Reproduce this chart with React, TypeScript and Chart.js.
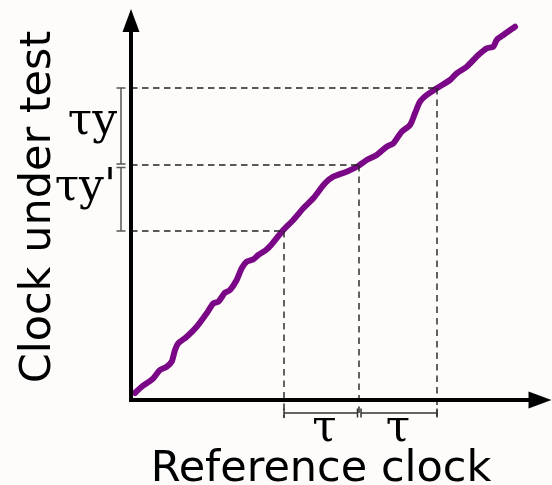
import { useEffect, useRef } from "react";
import { Chart, registerables } from "chart.js";

Chart.register(...registerables);

// Reference clock (x) vs clock under test (y), in arbitrary units from the origin
const refClock = [4, 10.7, 15.7, 22.3, 29, 35.7, 40.7, 44, 47.3, 55.7, 65.7, 75.7, 82.3, 87.3, 94, 99, 105.7, 110.7, 115.7, 122.3, 127.3, 135, 141, 152.3, 162.3, 172.3, 182.3, 194, 202.3, 215.7, 227.3, 235.7, 245.7, 255.7, 262.3, 270.7, 279, 284, 289, 295.7, 305.7, 319, 325.7, 335.7, 347.3, 355.7, 362.3, 365.7, 372.3, 384];
const clockUnderTest = [7, 13.3, 16.7, 21.7, 30, 33.3, 38.3, 50, 56.7, 63.3, 73.3, 86.7, 96.7, 98.3, 107.3, 110, 120, 131.7, 138.3, 140.7, 145, 150, 156, 170, 180, 191.7, 201.7, 216.7, 223.3, 228.3, 234, 240, 245, 253.3, 256.7, 268.3, 275, 286.7, 298.3, 305, 311.7, 320, 326.7, 333.3, 345, 351.7, 353.3, 360, 365, 373.3];

// Sampling instants (reference clock) and the readings of the clock under test
const markerX = [153, 228, 306];
const markerY = [169, 235, 312];

const tauLabels = ["τ", "τ"];
const yLabels = ["τy", "τy'"];
const xTitle = "Reference clock";
const yTitle = "Clock under test";

const X_MIN = -131, X_MAX = 421, Y_MIN = -85, Y_MAX = 400;
const X_AXIS_END = 420.5, Y_AXIS_END = 391;
const BRACKET_LEVEL = -13;

const SANS = '"DejaVu Sans", sans-serif';
const SERIF = '"DejaVu Serif", serif';

const overlay = {
  id: "overlay",
  beforeDraw(chart: any) {
    const { ctx, width, height } = chart;
    ctx.save();
    ctx.fillStyle = "#fdfcfb";
    ctx.fillRect(0, 0, width, height);
    ctx.restore();
  },
  afterDatasetsDraw(chart: any) {
    const { ctx } = chart;
    const xs = chart.scales.x, ys = chart.scales.y;
    const X = (v: number) => xs.getPixelForValue(v);
    const Y = (v: number) => ys.getPixelForValue(v);
    const ox = X(0), oy = Y(0);
    ctx.save();

    // brackets along the x axis
    ctx.strokeStyle = "#333";
    ctx.lineWidth = 1.5;
    const by = Y(BRACKET_LEVEL);
    const hx = [[X(markerX[0]), X(markerX[1]) - 1.5], [X(markerX[1]) + 2, X(markerX[2])]];
    hx.forEach(([a, b]) => {
      ctx.beginPath();
      ctx.moveTo(a, by); ctx.lineTo(b, by);
      ctx.moveTo(a, by - 4.5); ctx.lineTo(a, by + 4.5);
      ctx.moveTo(b, by - 4.5); ctx.lineTo(b, by + 4.5);
      ctx.stroke();
    });

    // brackets along the y axis
    ctx.strokeStyle = "#555";
    const bx = ox - 10;
    const vy = [[Y(markerY[2]), Y(markerY[1]) - 1], [Y(markerY[1]) + 2.5, Y(markerY[0])]];
    vy.forEach(([a, b]) => {
      ctx.beginPath();
      ctx.moveTo(bx, a); ctx.lineTo(bx, b);
      ctx.moveTo(bx - 4.5, a); ctx.lineTo(bx + 4.5, a);
      ctx.moveTo(bx - 4.5, b); ctx.lineTo(bx + 4.5, b);
      ctx.stroke();
    });

    // axes
    ctx.strokeStyle = "#000";
    ctx.fillStyle = "#000";
    ctx.lineWidth = 4;
    ctx.lineCap = "square";
    const tipY = Y(Y_AXIS_END), tipX = X(X_AXIS_END);
    ctx.beginPath();
    ctx.moveTo(ox, tipY + 18); ctx.lineTo(ox, oy); ctx.lineTo(tipX - 18, oy);
    ctx.stroke();
    ctx.beginPath();
    ctx.moveTo(ox, tipY); ctx.lineTo(ox + 8.5, tipY + 23); ctx.lineTo(ox - 8.5, tipY + 23); ctx.closePath();
    ctx.fill();
    ctx.beginPath();
    ctx.moveTo(tipX, oy); ctx.lineTo(tipX - 23, oy - 8.5); ctx.lineTo(tipX - 23, oy + 8.5); ctx.closePath();
    ctx.fill();

    // tau labels
    ctx.fillStyle = "#000";
    ctx.font = `44px ${SERIF}`;
    ctx.textAlign = "center";
    ctx.textBaseline = "alphabetic";
    ctx.fillText(tauLabels[0], (X(markerX[0]) + X(markerX[1])) / 2 + 3, 441);
    ctx.fillText(tauLabels[1], (X(markerX[1]) + X(markerX[2])) / 2 + 0, 441);

    ctx.textAlign = "right";
    ctx.fillText(yLabels[0], 117, 134);
    ctx.fillText(yLabels[1], 116, 200);

    // axis titles
    ctx.font = `43px ${SANS}`;
    ctx.textAlign = "center";
    ctx.fillText(xTitle, 321, 481);
    ctx.save();
    ctx.translate(50, 207);
    ctx.rotate(-Math.PI / 2);
    ctx.fillText(yTitle, 0, 0);
    ctx.restore();

    ctx.restore();
  },
};

export default function App() {
  const ref = useRef<HTMLCanvasElement | null>(null);
  useEffect(() => {
    document.body.style.margin = "0";
    const canvas = ref.current!;
    const dashed: any[] = [];
    markerX.forEach((mx, i) => {
      dashed.push({
        data: [{ x: 0, y: markerY[i] }, { x: mx, y: markerY[i] }],
        borderColor: "#222",
        borderWidth: 1.4,
        borderDash: [6.5, 4.5],
        pointRadius: 0,
        tension: 0,
      });
      dashed.push({
        data: [{ x: mx, y: markerY[i] }, { x: mx, y: BRACKET_LEVEL - 5 }],
        borderColor: "#222",
        borderWidth: 1.4,
        borderDash: [6.5, 5],
        pointRadius: 0,
        tension: 0,
      });
    });
    const chart = new Chart(canvas, {
      type: "line",
      data: {
        datasets: [
          ...dashed,
          {
            data: refClock.map((x, i) => ({ x, y: clockUnderTest[i] })),
            borderColor: "#7a0785",
            borderWidth: 6,
            borderJoinStyle: "round",
            borderCapStyle: "round",
            pointRadius: 0,
            tension: 0.25,
          },
        ],
      },
      options: {
        animation: false,
        responsive: false,
        layout: { padding: 0 },
        plugins: { legend: { display: false }, tooltip: { enabled: false } },
        scales: {
          x: { type: "linear", min: X_MIN, max: X_MAX, display: false },
          y: { type: "linear", min: Y_MIN, max: Y_MAX, display: false },
        },
      },
      plugins: [overlay],
    } as any);
    return () => chart.destroy();
  }, []);
  return <canvas ref={ref} width={552} height={485} style={{ display: "block" }} />;
}
